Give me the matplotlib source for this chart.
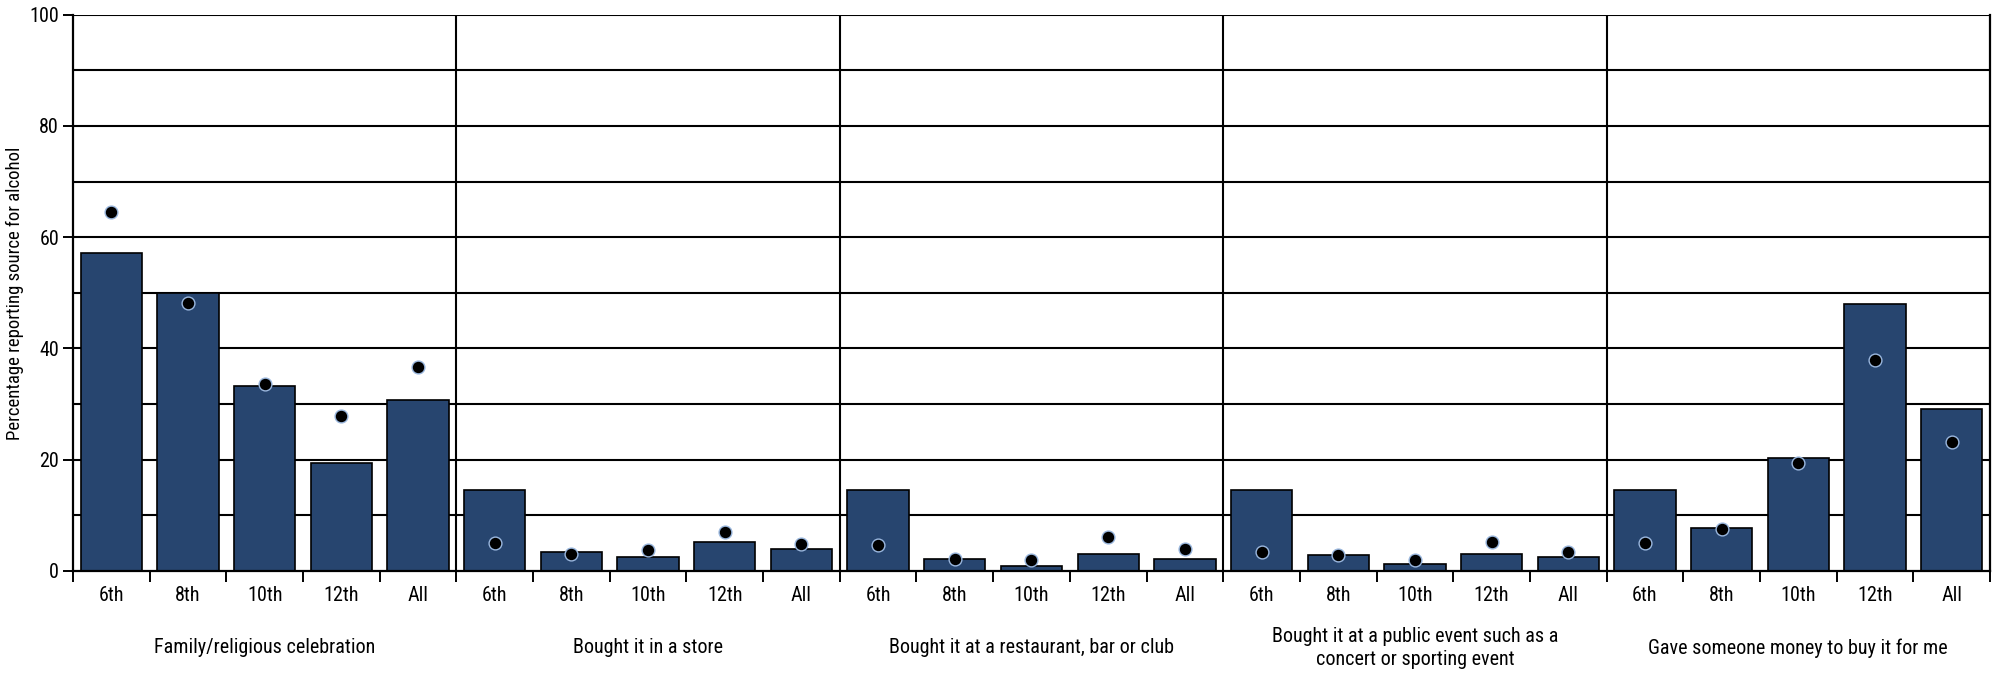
import matplotlib
matplotlib.use("Agg")
import matplotlib.pyplot as plt
import matplotlib.transforms as mtransforms
from matplotlib import font_manager
import numpy as np

# fonts: prefer a narrow sans if there is one
names = {f.name for f in font_manager.fontManager.ttflist}
family = [f for f in ["Liberation Sans Narrow", "Roboto Condensed", "Liberation Sans", "DejaVu Sans"] if f in names]
plt.rcParams["font.family"] = family

grades = ["6th", "8th", "10th", "12th", "All"]
sources = [
    "Family/religious celebration",
    "Bought it in a store",
    "Bought it at a restaurant, bar or club",
    "Bought it at a public event such as a\nconcert or sporting event",
    "Gave someone money to buy it for me",
]
# bar values per source (6th, 8th, 10th, 12th, All)
family_bars = [57.2, 50.0, 33.2, 19.4, 30.7]
store_bars = [14.5, 3.4, 2.5, 5.2, 4.0]
restaurant_bars = [14.5, 2.2, 0.9, 3.1, 2.2]
event_bars = [14.5, 2.8, 1.2, 3.1, 2.5]
money_bars = [14.5, 7.7, 20.3, 48.0, 29.2]
# dot values per source
family_dots = [64.5, 48.2, 33.7, 27.9, 36.7]
store_dots = [5.0, 3.0, 3.7, 7.0, 4.9]
restaurant_dots = [4.6, 2.2, 2.0, 6.2, 3.9]
event_dots = [3.4, 2.9, 2.0, 5.3, 3.5]
money_dots = [5.0, 7.5, 19.4, 37.9, 23.1]

bars = family_bars + store_bars + restaurant_bars + event_bars + money_bars
dots = family_dots + store_dots + restaurant_dots + event_dots + money_dots
n_grp = len(grades)
x = np.arange(len(bars))

fig = plt.figure(figsize=(19.99, 6.73), dpi=100)
ax = fig.add_axes([73 / 1999, 1 - 571 / 673, 1917 / 1999, (571 - 14.7) / 673])

for yv in range(10, 101, 10):
    ax.axhline(yv, color="black", lw=1.5, zorder=1)
for b in range(1, len(sources)):
    ax.axvline(b * n_grp - 0.5, color="black", lw=1.5, zorder=1)

ax.bar(x, bars, width=0.8, color="#27456f", edgecolor="black", linewidth=1.2, zorder=2)
ax.scatter(x, dots, s=85, color="black", edgecolor="#9ab7de", linewidth=1.0, zorder=3)

ax.set_xlim(-0.5, len(bars) - 0.5)
ax.set_ylim(0, 100)
ax.set_xticks(x)
ax.set_xticklabels(grades * len(sources), fontsize=14.5)
ax.set_xticks(np.arange(-0.5, len(bars), 1), minor=True)
ax.tick_params(axis="x", which="major", length=0, pad=11)
ax.tick_params(axis="x", which="minor", length=8, width=1.4, color="black")
ax.set_yticks(range(0, 101, 20))
ax.tick_params(axis="y", length=7, width=1.4, pad=3, labelsize=14.5)

for s in ["left", "right", "bottom"]:
    ax.spines[s].set_linewidth(1.6)
    ax.spines[s].set_color("black")
ax.spines["top"].set_visible(False)

ax.set_ylabel("Percentage reporting source for alcohol", fontsize=13.5)
ax.yaxis.set_label_coords(-0.0255, 0.5)

trans = mtransforms.blended_transform_factory(ax.transData, ax.transAxes)
for i, name in enumerate(sources):
    ax.text(i * n_grp + (n_grp - 1) / 2, -0.138, name, transform=trans,
            ha="center", va="center", fontsize=14.5, linespacing=1.3)

fig.savefig("out.png", dpi=100)
